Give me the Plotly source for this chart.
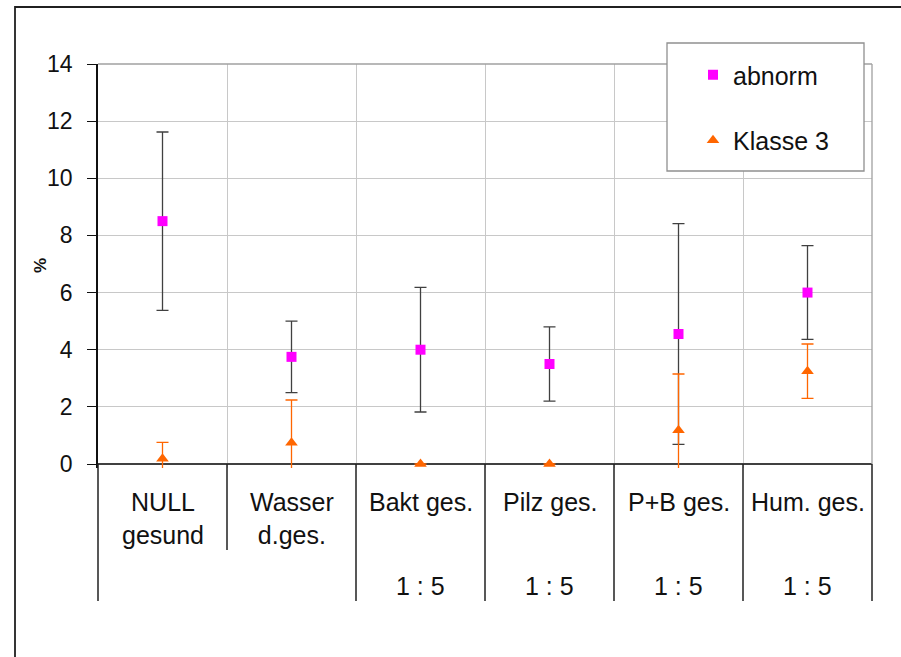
import plotly.graph_objects as go

# ---------------- data ----------------
categories = ["NULL<br>gesund", "Wasser<br>d.ges.", "Bakt ges.", "Pilz ges.", "P+B ges.", "Hum. ges."]
group_labels = ["", "1 : 5", "1 : 5", "1 : 5", "1 : 5"]
group_spans = [2, 1, 1, 1, 1]

abnorm = [8.5, 3.75, 4.0, 3.5, 4.55, 6.0]
abnorm_err = [3.12, 1.25, 2.18, 1.3, 3.86, 1.64]

klasse3 = [0.18, 0.74, 0.0, 0.0, 1.18, 3.25]
klasse3_err = [0.58, 1.5, 0.0, 0.0, 1.97, 0.95]

y_ticks = [0, 2, 4, 6, 8, 10, 12, 14]

# ---------------- layout geometry ----------------
W, H = 901, 657
L, R, T, B = 98, 872, 64, 468
FONT = "Liberation Sans, Arial, sans-serif"


def px_x(px):
    return (px - L) / (R - L)


def px_y(py):
    return (B - py) / (B - T)


xpos = list(range(len(categories)))

fig = go.Figure()
fig.add_trace(go.Scatter(
    x=xpos, y=abnorm, mode="markers", name="abnorm", legendgroup="a",
    marker=dict(symbol="square", size=10, color="#FF00FF"),
    error_y=dict(type="data", array=abnorm_err, symmetric=True,
                 color="#404040", thickness=1.3, width=6),
))
fig.add_trace(go.Scatter(
    x=xpos, y=klasse3, mode="markers", name="Klasse 3", legendgroup="b",
    marker=dict(symbol="triangle-up", size=11, color="#FF6600"),
    error_y=dict(type="data", array=klasse3_err, symmetric=True,
                 color="#FF6600", thickness=1.3, width=6),
))

shapes = []
# outer chart border
shapes.append(dict(type="rect", xref="paper", yref="paper",
                   x0=px_x(15), x1=px_x(910), y0=px_y(7), y1=px_y(670),
                   line=dict(color="#202020", width=1.8), fillcolor="rgba(0,0,0,0)", layer="below"))
# right border of plot area
shapes.append(dict(type="line", xref="paper", yref="paper", x0=1, x1=1, y0=px_y(464), y1=1,
                   line=dict(color="#A0A0A0", width=1.3)))
# top border
shapes.append(dict(type="line", xref="paper", yref="paper", x0=0, x1=1, y0=1, y1=1,
                   line=dict(color="#A0A0A0", width=1.3)))

n = len(categories)
# category table: row 1 lines at every boundary
for i in range(n + 1):
    shapes.append(dict(type="line", xref="paper", yref="paper", x0=i / n, x1=i / n,
                       y0=px_y(464), y1=px_y(550), line=dict(color="#202020", width=1.5)))
# row 2 lines at group boundaries
bounds = [0]
for s in group_spans:
    bounds.append(bounds[-1] + s)
for b in bounds:
    shapes.append(dict(type="line", xref="paper", yref="paper", x0=b / n, x1=b / n,
                       y0=px_y(550), y1=px_y(601), line=dict(color="#202020", width=1.5)))
# legend box
shapes.append(dict(type="rect", xref="paper", yref="paper",
                   x0=px_x(667), x1=px_x(864), y0=px_y(171), y1=px_y(43),
                   line=dict(color="#909090", width=1.3), fillcolor="white", layer="above"))

annotations = []
for i, c in enumerate(categories):
    annotations.append(dict(x=i, xref="x", y=px_y(486), yref="paper", text=c, showarrow=False,
                            yanchor="top", xanchor="center", align="center",
                            font=dict(family=FONT, size=25, color="#111")))
start = 0
for lab, s in zip(group_labels, group_spans):
    center = start + (s - 1) / 2
    annotations.append(dict(x=center, xref="x", y=px_y(570), yref="paper", text=lab, showarrow=False,
                            yanchor="top", xanchor="center",
                            font=dict(family=FONT, size=25, color="#111")))
    start += s
annotations.append(dict(x=px_x(40), xref="paper", y=0.5, yref="paper", text="<b>%</b>", showarrow=False,
                        textangle=-90, xanchor="center", yanchor="middle",
                        font=dict(family=FONT, size=17, color="#111")))

fig.update_layout(
    width=W, height=H,
    margin=dict(l=L, r=W - R, t=T, b=H - B),
    paper_bgcolor="white", plot_bgcolor="white",
    showlegend=True,
    legend=dict(x=px_x(693), y=px_y(52), xanchor="left", yanchor="top",
                bgcolor="rgba(0,0,0,0)", borderwidth=0, tracegroupgap=30,
                font=dict(family=FONT, size=25, color="#111")),
    xaxis=dict(type="linear", range=[-0.5, n - 0.5], showticklabels=False, ticks="",
               tickvals=[i - 0.5 for i in range(n + 1)], showgrid=True,
               gridcolor="#C8C8C8", gridwidth=1.3, zeroline=False, showline=False),
    yaxis=dict(range=[-0.14, 14], tickvals=y_ticks, showgrid=True, gridcolor="#C8C8C8",
               gridwidth=1.3, zeroline=True, zerolinecolor="#404040", zerolinewidth=2,
               showline=True, linecolor="#101010", linewidth=1.5,
               ticks="outside", ticklen=9, tickcolor="#101010", tickwidth=1.3,
               ticklabelstandoff=10,
               tickfont=dict(family=FONT, size=23, color="#111")),
    shapes=shapes, annotations=annotations,
)

fig.write_html("out.html", config={"displayModeBar": False},
               post_script="document.body.style.margin='0px';")
